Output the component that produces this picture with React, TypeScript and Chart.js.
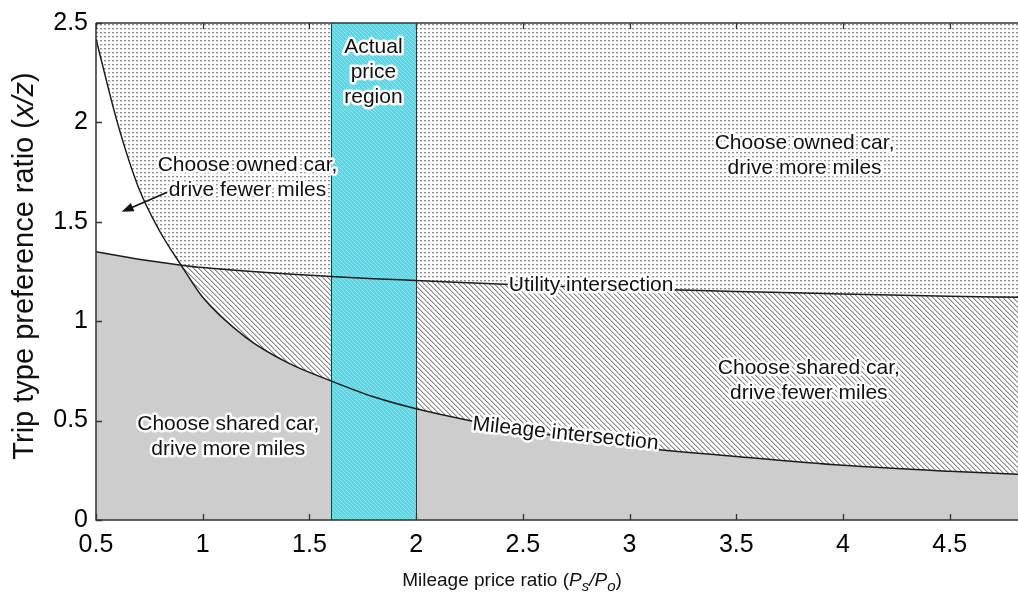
import React, { useEffect, useRef } from "react";
import { Chart, registerables } from "chart.js";

Chart.register(...registerables);

// ---------- data ----------
const X_VALUES = [0.5, 0.6, 0.7, 0.8, 0.9, 1.0, 1.2, 1.4, 1.6, 1.8, 2.0, 2.5, 3.0, 3.5, 4.0, 4.5, 4.82];
const MILEAGE_RATIO = [2.42, 2.0, 1.67, 1.45, 1.28, 1.12, 0.92, 0.79, 0.7, 0.62, 0.56, 0.45, 0.37, 0.32, 0.275, 0.245, 0.23];
const UTILITY_RATIO = [1.35, 1.33, 1.312, 1.296, 1.282, 1.27, 1.252, 1.237, 1.225, 1.214, 1.205, 1.182, 1.163, 1.15, 1.137, 1.126, 1.12];
const PRICE_REGION = [1.6, 2.0];
const X_RANGE = [0.5, 4.82];
const Y_RANGE = [0, 2.5];
const TICK_STEP = 0.5;

const REGION_LABELS = [
  { lines: ["Actual", "price", "region"], x: 1.8, y: 2.254, angle: 0 },
  { lines: ["Choose owned car,", "drive fewer miles"], x: 1.21, y: 1.72, angle: 0 },
  { lines: ["Choose owned car,", "drive more miles"], x: 3.82, y: 1.83, angle: 0 },
  { lines: ["Choose shared car,", "drive fewer miles"], x: 3.84, y: 0.7, angle: 0 },
  { lines: ["Choose shared car,", "drive more miles"], x: 1.12, y: 0.42, angle: 0 },
  { lines: ["Utility intersection"], x: 2.82, y: 1.18, angle: 0 },
  { lines: ["Mileage intersection"], x: 2.7, y: 0.433, angle: 6 },
];
const ARROW = { from: [0.88, 1.67], to: [0.62, 1.55] };

const FONT = "'Liberation Sans', Arial, Helvetica, sans-serif";

function makePattern(size: number, draw: (g: CanvasRenderingContext2D) => void): CanvasPattern {
  const c = document.createElement("canvas");
  c.width = size;
  c.height = size;
  const g = c.getContext("2d")!;
  draw(g);
  return g.createPattern(c, "repeat")!;
}

const fmt = (v: any) => String(Math.round(Number(v) * 100) / 100);

export default function App() {
  const ref = useRef<HTMLCanvasElement | null>(null);

  useEffect(() => {
    const canvas = ref.current!;
    const dots = makePattern(4, (g) => {
      g.fillStyle = "#ffffff";
      g.fillRect(0, 0, 4, 4);
      g.fillStyle = "#8e8e8e";
      g.fillRect(0, 0, 2, 1);
      g.fillStyle = "#d8d8d8";
      g.fillRect(0, 1, 2, 1);
    });
    const hatch = makePattern(5, (g) => {
      g.fillStyle = "#ffffff";
      g.fillRect(0, 0, 5, 5);
      for (let i = 0; i < 5; i++) {
        g.fillStyle = "#888888";
        g.fillRect(i, i, 1, 1);
        g.fillStyle = "#cacaca";
        g.fillRect((i + 1) % 5, i, 1, 1);
      }
    });
    const cyan = makePattern(4, (g) => {
      g.fillStyle = "rgb(96,212,226)";
      g.fillRect(0, 0, 4, 4);
      g.fillStyle = "rgb(140,228,236)";
      for (let i = 0; i < 4; i++) {
        g.fillRect(i, i, 1, 1);
      }
    });

    const background = {
      id: "dottedBackground",
      beforeDraw(chart: any) {
        const { ctx, chartArea: a } = chart;
        ctx.save();
        ctx.fillStyle = dots;
        ctx.fillRect(a.left, a.top, a.right - a.left, a.bottom - a.top);
        ctx.restore();
      },
    };

    const band = {
      id: "priceBand",
      beforeDatasetsDraw(chart: any) {
        const { ctx, chartArea: a, scales } = chart;
        const x0 = scales.x.getPixelForValue(PRICE_REGION[0]);
        const x1 = scales.x.getPixelForValue(PRICE_REGION[1]);
        ctx.save();
        ctx.fillStyle = cyan;
        ctx.fillRect(x0, a.top, x1 - x0, a.bottom - a.top);
        ctx.strokeStyle = "#2a3a3c";
        ctx.lineWidth = 1;
        ctx.beginPath();
        ctx.moveTo(Math.round(x0) + 0.5, a.top);
        ctx.lineTo(Math.round(x0) + 0.5, a.bottom);
        ctx.moveTo(Math.round(x1) + 0.5, a.top);
        ctx.lineTo(Math.round(x1) + 0.5, a.bottom);
        ctx.stroke();
        ctx.restore();
      },
    };

    const haloText = (ctx: CanvasRenderingContext2D, t: string, x: number, y: number) => {
      ctx.lineJoin = "round";
      ctx.strokeStyle = "#ffffff";
      ctx.lineWidth = 5;
      ctx.strokeText(t, x, y);
      ctx.fillStyle = "#111111";
      ctx.fillText(t, x, y);
    };

    const overlay = {
      id: "overlay",
      afterDatasetsDraw(chart: any) {
        const { ctx, chartArea: a, scales } = chart;
        const xs = scales.x;
        const ys = scales.y;
        ctx.save();
        // frame
        ctx.strokeStyle = "#333333";
        ctx.lineWidth = 1.5;
        ctx.beginPath();
        ctx.moveTo(a.left, a.top);
        ctx.lineTo(a.left, a.bottom);
        ctx.lineTo(a.right, a.bottom);
        ctx.moveTo(a.left, a.top);
        ctx.lineTo(a.right, a.top);
        ctx.stroke();
        // inward ticks
        ctx.lineWidth = 1.3;
        ctx.beginPath();
        xs.ticks.forEach((t: any) => {
          const px = Math.round(xs.getPixelForValue(t.value)) + 0.5;
          ctx.moveTo(px, a.bottom);
          ctx.lineTo(px, a.bottom - 6);
          ctx.moveTo(px, a.top);
          ctx.lineTo(px, a.top + 6);
        });
        ys.ticks.forEach((t: any) => {
          const py = Math.round(ys.getPixelForValue(t.value)) + 0.5;
          ctx.moveTo(a.left, py);
          ctx.lineTo(a.left + 6, py);
        });
        ctx.stroke();

        // arrow
        const fx = xs.getPixelForValue(ARROW.from[0]);
        const fy = ys.getPixelForValue(ARROW.from[1]);
        const tx = xs.getPixelForValue(ARROW.to[0]);
        const ty = ys.getPixelForValue(ARROW.to[1]);
        const ang = Math.atan2(ty - fy, tx - fx);
        ctx.strokeStyle = "#111";
        ctx.lineWidth = 1.5;
        ctx.beginPath();
        ctx.moveTo(fx, fy);
        ctx.lineTo(tx - 8 * Math.cos(ang), ty - 8 * Math.sin(ang));
        ctx.stroke();
        ctx.fillStyle = "#111";
        ctx.beginPath();
        ctx.moveTo(tx, ty);
        ctx.lineTo(tx - 12 * Math.cos(ang) + 4.5 * Math.sin(ang), ty - 12 * Math.sin(ang) - 4.5 * Math.cos(ang));
        ctx.lineTo(tx - 12 * Math.cos(ang) - 4.5 * Math.sin(ang), ty - 12 * Math.sin(ang) + 4.5 * Math.cos(ang));
        ctx.closePath();
        ctx.fill();

        // region labels
        ctx.font = `21px ${FONT}`;
        ctx.textAlign = "center";
        ctx.textBaseline = "middle";
        const lh = 25;
        REGION_LABELS.forEach((l) => {
          const cx = xs.getPixelForValue(l.x);
          const cy = ys.getPixelForValue(l.y);
          ctx.save();
          ctx.translate(cx, cy);
          ctx.rotate((l.angle * Math.PI) / 180);
          const n = l.lines.length;
          l.lines.forEach((t, i) => {
            haloText(ctx, t, 0, (i - (n - 1) / 2) * lh);
          });
          ctx.restore();
        });
        ctx.restore();
      },
      afterDraw(chart: any) {
        const { ctx } = chart;
        ctx.save();
        ctx.fillStyle = "#111";
        ctx.textBaseline = "alphabetic";
        // x title
        const size = 19;
        const segs = [
          { t: "Mileage price ratio (", it: false, sub: false },
          { t: "P", it: true, sub: false },
          { t: "s", it: true, sub: true },
          { t: "/P", it: true, sub: false },
          { t: "o", it: true, sub: true },
          { t: ")", it: false, sub: false },
        ];
        const fontOf = (s: any) => `${s.it ? "italic " : ""}${s.sub ? Math.round(size * 0.8) : size}px ${FONT}`;
        let total = 0;
        segs.forEach((s) => {
          ctx.font = fontOf(s);
          total += ctx.measureText(s.t).width;
        });
        let x = 512 - total / 2;
        const base = 586;
        segs.forEach((s) => {
          ctx.font = fontOf(s);
          ctx.fillText(s.t, x, base + (s.sub ? 5 : 0));
          x += ctx.measureText(s.t).width;
        });
        // y title
        const ysize = 29;
        const ysegs = [
          { t: "Trip type preference ratio (", it: false },
          { t: "x/z", it: true },
          { t: ")", it: false },
        ];
        ctx.translate(33, 266);
        ctx.rotate(-Math.PI / 2);
        let ytotal = 0;
        ysegs.forEach((s) => {
          ctx.font = `${s.it ? "italic " : ""}${ysize}px ${FONT}`;
          ytotal += ctx.measureText(s.t).width;
        });
        let yx = -ytotal / 2;
        ysegs.forEach((s) => {
          ctx.font = `${s.it ? "italic " : ""}${ysize}px ${FONT}`;
          ctx.fillText(s.t, yx, 0);
          yx += ctx.measureText(s.t).width;
        });
        ctx.restore();
      },
    };

    const tickFont = { family: FONT, size: 25 };
    const chart = new Chart(canvas, {
      type: "line",
      data: {
        datasets: [
          {
            label: "Mileage intersection",
            data: X_VALUES.map((x, i) => ({ x, y: MILEAGE_RATIO[i] })),
            borderColor: "#1c1c1c",
            borderWidth: 1.5,
            pointRadius: 0,
            cubicInterpolationMode: "monotone",
            fill: { target: 1, above: "#ffffff", below: hatch },
          } as any,
          {
            label: "Utility intersection",
            data: X_VALUES.map((x, i) => ({ x, y: UTILITY_RATIO[i] })),
            borderColor: "#1c1c1c",
            borderWidth: 1.5,
            pointRadius: 0,
            cubicInterpolationMode: "monotone",
            fill: "origin",
            backgroundColor: "#cdcdcd",
          } as any,
        ],
      },
      options: {
        animation: false,
        responsive: true,
        maintainAspectRatio: false,
        layout: { padding: { top: 17, right: 0, left: 0, bottom: 0 } },
        plugins: {
          legend: { display: false },
          tooltip: { enabled: false },
          filler: { drawTime: "beforeDatasetsDraw" } as any,
        },
        scales: {
          x: {
            type: "linear",
            min: X_RANGE[0],
            max: X_RANGE[1],
            ticks: {
              stepSize: TICK_STEP,
              includeBounds: false,
              font: tickFont,
              color: "#000",
              padding: 10,
              maxRotation: 0,
              autoSkip: false,
              callback: fmt,
            },
            grid: { display: false, drawTicks: false },
            border: { display: false },
            afterFit: (s: any) => {
              s.height = 74;
            },
          },
          y: {
            type: "linear",
            min: Y_RANGE[0],
            max: Y_RANGE[1],
            ticks: {
              stepSize: TICK_STEP,
              font: tickFont,
              color: "#000",
              padding: 8,
              callback: fmt,
            },
            grid: { display: false, drawTicks: false },
            border: { display: false },
            afterFit: (s: any) => {
              s.width = 96;
            },
          },
        },
      } as any,
      plugins: [background, band, overlay],
    });
    return () => chart.destroy();
  }, []);

  return (
    <div style={{ position: "absolute", left: 0, top: 0, width: 1018, height: 594, background: "#fff" }}>
      <canvas ref={ref} />
    </div>
  );
}
